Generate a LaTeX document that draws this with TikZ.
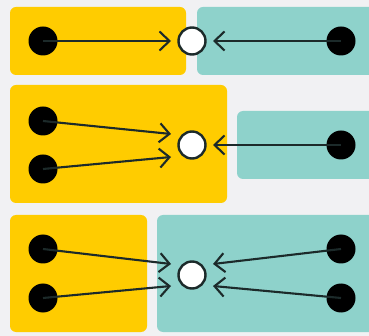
\documentclass[tikz,border=0pt]{standalone}
\usepackage{tikz}
\usetikzlibrary{arrows.meta,positioning}
\definecolor{bgcol}{HTML}{F1F1F3}
\definecolor{boxyellow}{HTML}{FFCC00}
\definecolor{boxteal}{HTML}{8ED2CB}
\definecolor{linecol}{HTML}{1C2A2A}

\begin{document}
\begin{tikzpicture}[x=1pt, y=-1pt,
    dot/.style={circle, fill=black, minimum size=29pt, inner sep=0pt},
    hub/.style={circle, draw=linecol, fill=white, line width=2.4pt, minimum size=27pt, inner sep=0pt},
    feed/.style={-{Straight Barb[length=10pt, width=19pt]}, line width=2.1pt, draw=linecol},
    ybox/.style={fill=boxyellow, rounded corners=6pt},
    tbox/.style={fill=boxteal, rounded corners=6pt}
  ]
    \useasboundingbox (0,0) rectangle (369,336);
    \fill[bgcol] (0,0) rectangle (369,336);
    \clip (0,0) rectangle (369,336);

    % Row 1: one in, one out
    \fill[ybox] (10,7) rectangle (186,75);
    \fill[tbox] (197,7) rectangle (380,75);
    \node[dot] (a1) at (43,41) {};
    \node[hub] (c1) at (192,41) {};
    \node[dot] (b1) at (341,41) {};
    \coordinate (a1t) at (171,41);
    \coordinate (b1t) at (213,41);

    % Row 2: two in, one out
    \fill[ybox] (10,85) rectangle (227,203);
    \fill[tbox] (237,111) rectangle (380,179);
    \node[dot] (a2) at (43,121) {};
    \node[dot] (a3) at (43,169) {};
    \node[hub] (c2) at (192,145) {};
    \node[dot] (b2) at (341,145) {};
    \coordinate (a2t) at (171,134);
    \coordinate (a3t) at (171,157);
    \coordinate (b2t) at (213,145);

    % Row 3: two in, two out
    \fill[ybox] (10,215) rectangle (147,332);
    \fill[tbox] (157,215) rectangle (380,332);
    \node[dot] (a4) at (43,249) {};
    \node[dot] (a5) at (43,298) {};
    \node[hub] (c3) at (192,275) {};
    \node[dot] (b3) at (341,249) {};
    \node[dot] (b4) at (341,298) {};
    \coordinate (a4t) at (171,264);
    \coordinate (a5t) at (171,286);
    \coordinate (b3t) at (213,264);
    \coordinate (b4t) at (213,286);

    % Arrows
    \draw[feed] (a1.center) -- (a1t);
    \draw[feed] (b1.center) -- (b1t);
    \draw[feed] (a2.center) -- (a2t);
    \draw[feed] (a3.center) -- (a3t);
    \draw[feed] (b2.center) -- (b2t);
    \draw[feed] (a4.center) -- (a4t);
    \draw[feed] (a5.center) -- (a5t);
    \draw[feed] (b3.center) -- (b3t);
    \draw[feed] (b4.center) -- (b4t);
\end{tikzpicture}
\end{document}
